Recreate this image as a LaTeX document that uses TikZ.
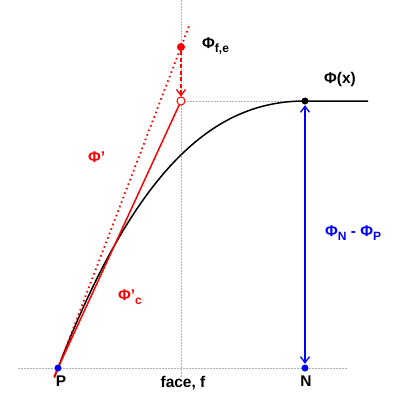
\documentclass[tikz,border=0pt]{standalone}
\usepackage{fontspec}
\setmainfont{Liberation Sans}
\usetikzlibrary{arrows.meta,calc}
\tikzset{
  guide/.style={draw=gray!60, line width=0.9pt, dash pattern=on 1.5pt off 1.5pt},
  lbl/.style={inner sep=0pt, font=\fontsize{15.5}{17}\selectfont\bfseries},
  dotpt/.style={circle, inner sep=0pt, minimum size=7pt},
  onetip/.style={-{Straight Barb[length=6pt,width=9pt,line width=1.3pt]}},
  twotip/.style={{Straight Barb[length=6pt,width=9pt,line width=1.3pt]}-{Straight Barb[length=6pt,width=9pt,line width=1.3pt]}},
}
\newcommand{\sbs}[1]{\raisebox{-0.45ex}{\fontsize{12}{13}\selectfont\bfseries #1}}
\begin{document}
\begin{tikzpicture}[x=1pt,y=-1pt]
\useasboundingbox (0,0) rectangle (400,400);
\coordinate (P) at (58,368);
\coordinate (N) at (305,368);
\coordinate (F) at (181,101);
\coordinate (E) at (181,47);
\coordinate (T) at (305,101);
\coordinate (BL) at (18,368);
\coordinate (BR) at (348,368);
\coordinate (VT) at (181,0);
\coordinate (VB) at (181,378);
\coordinate (HR) at (347,101);
% guides
\draw[guide] (BL) -- (BR);
\draw[guide] (VT) -- (VB);
\draw[guide] (F) -- (HR);
% curve
\draw[line width=1.5pt] plot[domain=-0.013:1, samples=80, variable=\t] ({58+247*\t},{368-267*(2.4*\t-1.8*\t*\t+0.4*\t*\t*\t)}) -- (368,101);
% red tangent lines
\draw[red, line width=1.8pt, dash pattern=on 1.6pt off 3.2pt] ($(P)!-0.03!(E)$) -- ($(P)!1.07!(E)$);
\draw[red, line width=1.5pt] ($(P)!-0.03!(F)$) -- ($(P)!0.985!(F)$);
% red dashed arrow
\node[dotpt, fill=red, minimum size=8pt] (e) at (E) {};
\node[dotpt, draw=red, fill=white, line width=1pt, minimum size=8pt] (f) at (F) {};
\draw[red, line width=1.3pt, dash pattern=on 4pt off 2.5pt, onetip] (e) -- (f);
% blue arrow
\node[dotpt, fill=black] (t) at (T) {};
\node[dotpt, fill=blue] (p) at (P) {};
\node[dotpt, fill=blue] (n) at (N) {};
\draw[blue, line width=1.5pt, twotip, shorten <=0.5pt, shorten >=0.5pt] (t) -- (n);
% labels
\node[lbl, anchor=west] (lfe) at (202,46) {Φ\sbs{f,e}};
\node[lbl, anchor=west] (lx) at (324,79) {Φ(x)};
\node[lbl, anchor=west, text=red] (lp) at (88,157) {Φ'};
\node[lbl, anchor=west, text=red] (lpc) at (118,297) {Φ'\sbs{c}};
\node[lbl, anchor=west, text=blue] (ld) at (325,233) {Φ\sbs{N} - Φ\sbs{P}};
\node[lbl, anchor=north] (lP) at (61,376) {P};
\node[lbl, anchor=north] (lf) at (183,376) {face, f};
\node[lbl, anchor=north] (lN) at (306,376) {N};
\end{tikzpicture}
\end{document}
